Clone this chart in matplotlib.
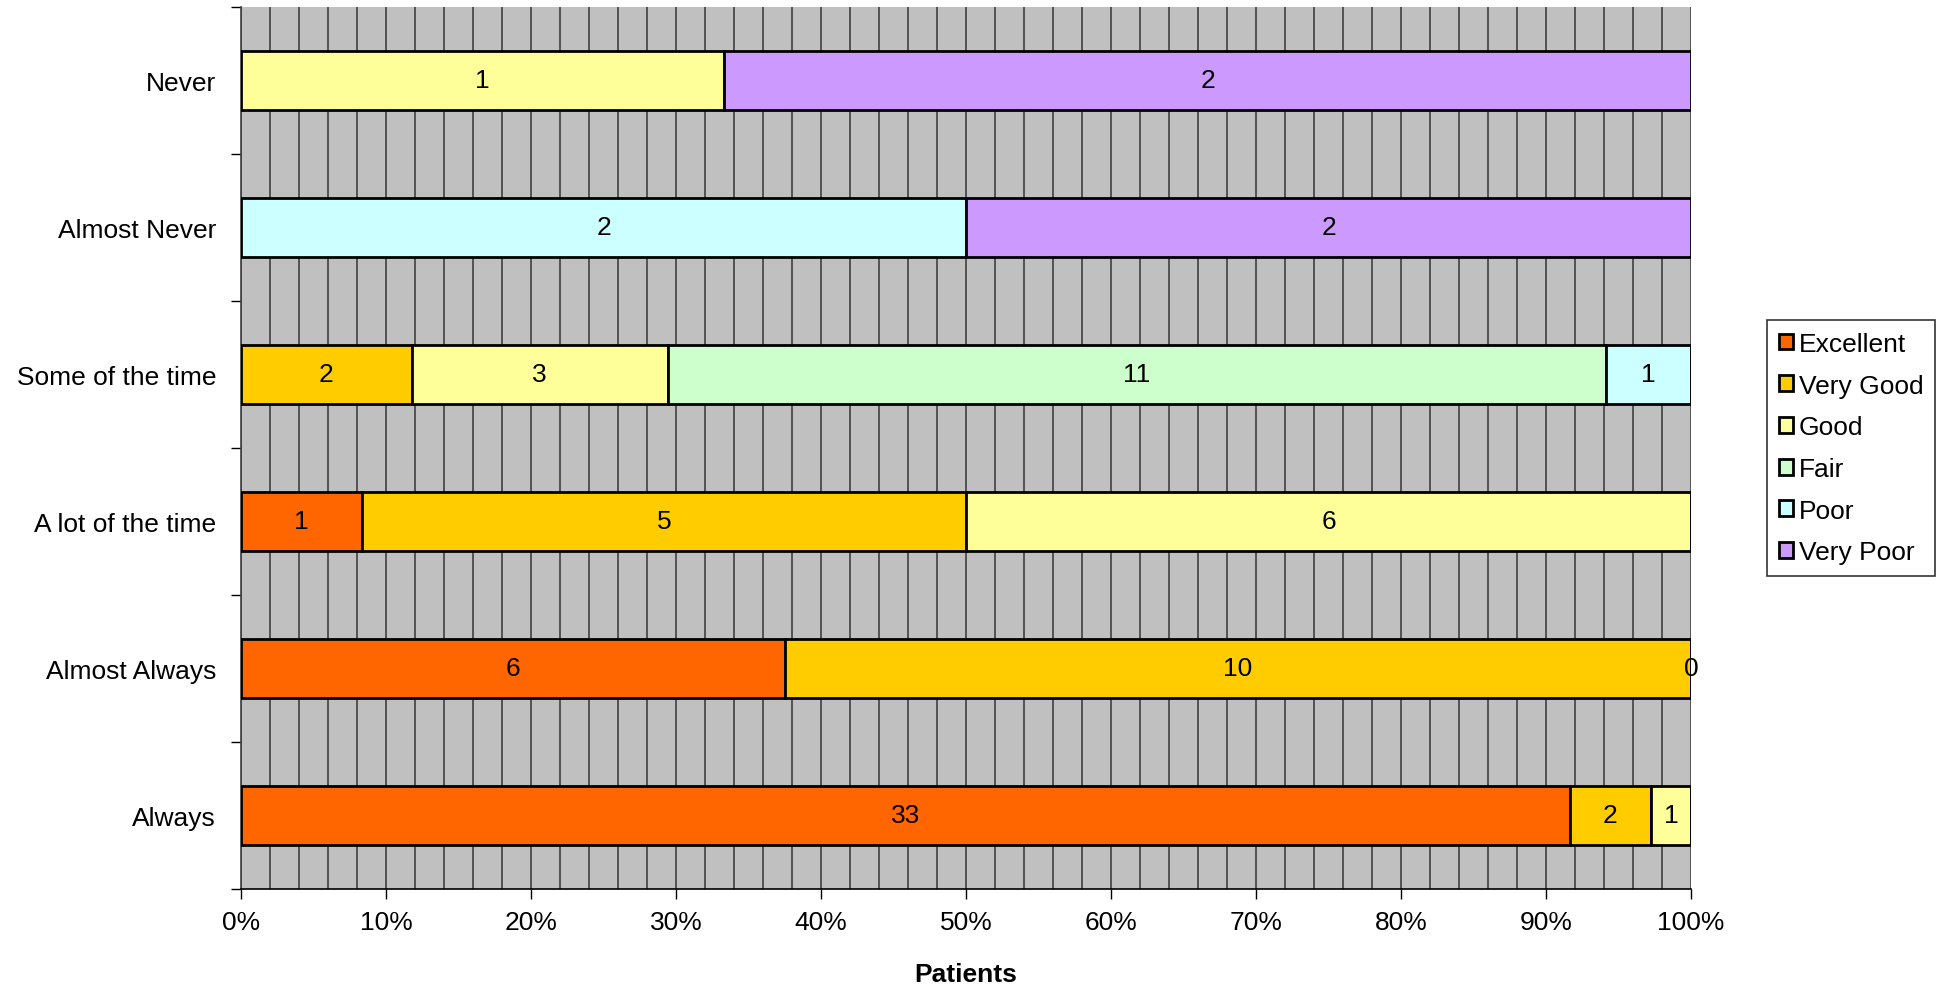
import numpy as np
import matplotlib
matplotlib.use("Agg")
import matplotlib.pyplot as plt
from matplotlib.ticker import MultipleLocator, FixedLocator, PercentFormatter

plt.rcParams['font.family'] = ['Liberation Sans', 'DejaVu Sans']

categories = ["Always", "Almost Always", "A lot of the time",
              "Some of the time", "Almost Never", "Never"]
series = ["Excellent", "Very Good", "Good", "Fair", "Poor", "Very Poor"]
colors = ["#FF6600", "#FFCC00", "#FFFF99", "#CCFFCC", "#CCFFFF", "#CC99FF"]

nan = np.nan
# counts per category (rows follow categories), NaN = no value shown
excellent = [33, 6, 1, nan, nan, nan]
very_good = [2, 10, 5, 2, nan, nan]
good      = [1, 0, 6, 3, nan, 1]
fair      = [nan, nan, nan, 11, nan, nan]
poor      = [nan, nan, nan, 1, 2, nan]
very_poor = [nan, nan, nan, nan, 2, 2]

data = np.array([excellent, very_good, good, fair, poor, very_poor], dtype=float)
vals = np.nan_to_num(data)
totals = vals.sum(axis=0)
pct = vals / totals * 100

FS = 19

fig = plt.figure(figsize=(19.41, 9.87), dpi=100)
ax = fig.add_axes([0.1242, 0.0983, 0.7470, 0.8936])
ax.set_facecolor("#C0C0C0")

ax.set_xlim(0, 100)
ax.set_ylim(-0.5, len(categories) - 0.5)
ax.xaxis.set_minor_locator(MultipleLocator(2))
ax.xaxis.set_major_locator(MultipleLocator(10))
ax.grid(True, axis='x', which='both', color='#404040', linewidth=1.2, zorder=0)
ax.set_axisbelow(True)

y = np.arange(len(categories))
left = np.zeros(len(categories))
for i, name in enumerate(series):
    ax.barh(y, pct[i], left=left, height=0.4, color=colors[i],
            edgecolor='black', linewidth=2, label=name, zorder=3)
    for j in range(len(categories)):
        if not np.isnan(data[i, j]):
            ax.text(left[j] + pct[i, j] / 2, y[j], f"{int(data[i, j])}",
                    ha='center', va='center', fontsize=FS, zorder=4)
    left += pct[i]

ax.set_yticks(y)
ax.set_yticklabels(categories, fontsize=FS)
ax.yaxis.set_minor_locator(FixedLocator(np.arange(-0.5, len(categories), 1)))
ax.tick_params(axis='y', which='major', length=0, pad=18)
ax.tick_params(axis='y', which='minor', length=7, width=1, direction='out')
ax.xaxis.set_major_formatter(PercentFormatter(decimals=0))
ax.tick_params(axis='x', which='major', labelsize=FS, length=7, width=1, pad=8)
ax.tick_params(axis='x', which='minor', length=0)

for s in ['top', 'right']:
    ax.spines[s].set_visible(False)
ax.spines['left'].set_color('#404040')
ax.spines['left'].set_linewidth(1.2)
ax.spines['bottom'].set_color('black')
ax.spines['bottom'].set_linewidth(1.2)

ax.set_xlabel("Patients", fontsize=FS, fontweight='bold', labelpad=20)

handles, labels = ax.get_legend_handles_labels()
leg = fig.legend(handles, labels, loc='upper left',
                 bbox_to_anchor=(1767 / 1941, 1 - 321 / 987),
                 fontsize=FS, frameon=True, fancybox=False,
                 edgecolor='black', handlelength=0.55, handleheight=0.55,
                 handletextpad=0.2, labelspacing=0.67, borderpad=0.45,
                 borderaxespad=0)
leg.get_frame().set_linewidth(1.2)

fig.savefig("out.png", dpi=100)
